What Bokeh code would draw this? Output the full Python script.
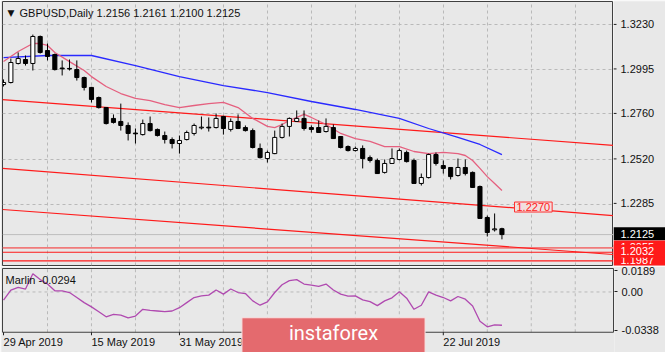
import math
from bokeh.plotting import figure
from bokeh.models import Range1d, FixedTicker, Label, ColumnDataSource, Grid
from bokeh.layouts import column, row
from bokeh.core.properties import value
from bokeh.embed import file_html
from bokeh.resources import INLINE

# ---------------- data ----------------
opens = [1.2914, 1.2925, 1.3025, 1.3046, 1.3025, 1.3167, 1.3093, 1.3072, 1.3001, 1.2999,
         1.2993, 1.2951, 1.2899, 1.2846, 1.2793, 1.2736, 1.2720, 1.2699, 1.2659, 1.2651,
         1.2709, 1.2678, 1.2646, 1.2625, 1.2604, 1.2625, 1.2657, 1.2686, 1.2690, 1.2688,
         1.2746, 1.2678, 1.2720, 1.2688, 1.2672, 1.2578, 1.2525, 1.2551, 1.2636, 1.2694,
         1.2720, 1.2736, 1.2688, 1.2688, 1.2667, 1.2688, 1.2641, 1.2588, 1.2567, 1.2578,
         1.2530, 1.2515, 1.2452, 1.2499, 1.2520, 1.2557, 1.2515, 1.2394, 1.2425, 1.2546,
         1.2488, 1.2478, 1.2436, 1.2478, 1.2452, 1.2378, 1.2215, 1.2150, 1.2156]
highs = [1.2941, 1.3051, 1.3083, 1.3067, 1.3177, 1.3172, 1.3130, 1.3077, 1.3041, 1.3046,
         1.3041, 1.2956, 1.2902, 1.2851, 1.2796, 1.2757, 1.2814, 1.2715, 1.2683, 1.2730,
         1.2746, 1.2683, 1.2667, 1.2636, 1.2646, 1.2672, 1.2709, 1.2746, 1.2741, 1.2762,
         1.2750, 1.2736, 1.2757, 1.2699, 1.2683, 1.2604, 1.2567, 1.2672, 1.2709, 1.2741,
         1.2778, 1.2778, 1.2699, 1.2725, 1.2736, 1.2704, 1.2643, 1.2594, 1.2588, 1.2594,
         1.2541, 1.2525, 1.2520, 1.2578, 1.2578, 1.2567, 1.2525, 1.2446, 1.2551, 1.2557,
         1.2515, 1.2480, 1.2525, 1.2520, 1.2457, 1.2383, 1.2225, 1.2236, 1.2161]
lows = [1.2904, 1.2920, 1.3020, 1.3014, 1.2988, 1.3077, 1.3041, 1.2988, 1.2962, 1.2988,
        1.2935, 1.2883, 1.2820, 1.2788, 1.2704, 1.2709, 1.2672, 1.2620, 1.2604, 1.2646,
        1.2667, 1.2641, 1.2604, 1.2578, 1.2551, 1.2620, 1.2646, 1.2678, 1.2667, 1.2683,
        1.2651, 1.2667, 1.2680, 1.2667, 1.2578, 1.2525, 1.2504, 1.2548, 1.2630, 1.2641,
        1.2718, 1.2672, 1.2662, 1.2660, 1.2662, 1.2628, 1.2578, 1.2562, 1.2562, 1.2473,
        1.2504, 1.2444, 1.2446, 1.2497, 1.2515, 1.2504, 1.2392, 1.2383, 1.2420, 1.2488,
        1.2446, 1.2415, 1.2430, 1.2436, 1.2370, 1.2208, 1.2115, 1.2141, 1.2100]
closes = [1.2925, 1.3030, 1.3051, 1.3025, 1.3167, 1.3083, 1.3062, 1.2993, 1.2997, 1.2996,
          1.2951, 1.2899, 1.2836, 1.2793, 1.2709, 1.2715, 1.2699, 1.2657, 1.2655, 1.2709,
          1.2672, 1.2646, 1.2625, 1.2604, 1.2620, 1.2662, 1.2699, 1.2690, 1.2686, 1.2736,
          1.2683, 1.2720, 1.2683, 1.2672, 1.2583, 1.2530, 1.2557, 1.2636, 1.2694, 1.2736,
          1.2736, 1.2683, 1.2678, 1.2662, 1.2694, 1.2630, 1.2583, 1.2567, 1.2578, 1.2525,
          1.2515, 1.2446, 1.2499, 1.2525, 1.2567, 1.2509, 1.2394, 1.2425, 1.2546, 1.2499,
          1.2473, 1.2430, 1.2478, 1.2446, 1.2373, 1.2210, 1.2136, 1.2155, 1.2125]

# short moving average (pink) and long moving average (blue), read at some bars
ma_fast_bar = [0, 2, 4, 5, 6, 7, 9, 11, 12, 14, 16, 18, 20, 22, 24, 26, 28, 30, 32, 34,
               36, 37, 38, 39, 41, 42, 44, 46, 48, 50, 52, 54, 56, 58, 60, 62, 63, 64, 65,
               66, 67, 68]
ma_fast_val = [1.3035, 1.3088, 1.3130, 1.3130, 1.3120, 1.3083, 1.3035, 1.2988, 1.2956, 1.2904,
               1.2867, 1.2841, 1.2830, 1.2809, 1.2793, 1.2804, 1.2814, 1.2820, 1.2793, 1.2736,
               1.2694, 1.2688, 1.2704, 1.2725, 1.2757, 1.2741, 1.2704, 1.2657, 1.2630, 1.2615,
               1.2588, 1.2588, 1.2562, 1.2551, 1.2557, 1.2551, 1.2541, 1.2515, 1.2473,
               1.2430, 1.2394, 1.2357]
ma_slow_bar = [0, 6, 12, 18, 24, 30, 36, 42, 48, 54, 58, 62, 65, 68]
ma_slow_val = [1.3056, 1.3067, 1.3067, 1.3014, 1.2956, 1.2909, 1.2872, 1.2825, 1.2783, 1.2736,
               1.2683, 1.2636, 1.2599, 1.2546]

# channel lines (left edge value, right edge value) and horizontal levels
channel_upper = [1.2835, 1.2594]
channel_middle = [1.2473, 1.2225]
channel_lower = [1.2257, 1.2020]
levels = [1.2055, 1.2032, 1.1987]
last_price = 1.2125
channel_tag = 1.2270

# Marlin oscillator, one value per bar
marlin = [-0.0073, 0.0017, 0.0040, 0.0026, 0.0160, 0.0109, 0.0070, 0.0010, 0.0010, -0.0005,
          -0.0049, -0.0094, -0.0132, -0.0174, -0.0219, -0.0198, -0.0204, -0.0228, -0.0213, -0.0153,
          -0.0162, -0.0168, -0.0174, -0.0168, -0.0139, -0.0094, -0.0049, -0.0034, -0.0028, 0.0017,
          -0.0019, 0.0026, -0.0005, -0.0014, -0.0079, -0.0117, -0.0088, -0.0005, 0.0064, 0.0100,
          0.0109, 0.0070, 0.0061, 0.0049, 0.0070, 0.0017, -0.0019, -0.0037, -0.0034, -0.0070,
          -0.0085, -0.0121, -0.0079, -0.0052, 0.0001, -0.0055, -0.0153, -0.0117, 0.0001, -0.0028,
          -0.0049, -0.0079, -0.0040, -0.0064, -0.0124, -0.0258, -0.0308, -0.0290, -0.0294]

price_ticks = [1.3230, 1.2995, 1.2760, 1.2520, 1.2285]
price_tick_labels = ["1.3230", "1.2995", "1.2760", "1.2520", "1.2285"]
marlin_ticks = [0.0189, 0.0, -0.0338]
marlin_tick_labels = ["0.0189", "0.00", "-0.0338"]
date_bars = [0, 12, 24, 60]
date_labels = ["29 Apr 2019", "15 May 2019", "31 May 2019", "22 Jul 2019"]
grid_bars = [6, 12, 18, 24, 30, 36, 42, 48, 54, 60, 66, 72, 78]

# ---------------- styling / layout ----------------
BG = "#e8e8e8"
FRAME = "#404040"
GRID = "#b9b9b9"
FONT = "Liberation Sans"
TXT = "#111111"
BAR_PX = 7.33                 # pixels per bar
P_PX = 0.000526               # price units per pixel
M_PX = 0.000893               # Marlin units per pixel

X0, X1 = -0.14, 83.22         # bar range of the chart frames
Y0, Y1 = 1.19624, 1.33510     # price range of the main frame
M0, M1 = -0.03557, 0.02069    # Marlin range of the indicator panel


def drop_grids(fig):
    fig.center = [r for r in fig.center if not isinstance(r, Grid)]


bars = list(range(len(opens)))
src = ColumnDataSource(dict(
    x=bars, open=opens, high=highs, low=lows, close=closes,
    top=[max(o, c) for o, c in zip(opens, closes)],
    bottom=[min(o, c) for o, c in zip(opens, closes)],
    fill=["white" if c >= o else "black" for o, c in zip(opens, closes)],
))

xr = Range1d(X0, X1)
yr = Range1d(Y0, Y1)

# ---------------- main price panel ----------------
p = figure(width=613, height=266, x_range=xr, y_range=yr,
           output_backend="svg", toolbar_location=None, tools="",
           x_axis_location=None, y_axis_location=None,
           min_border_left=2, min_border_right=0, min_border_top=1, min_border_bottom=1,
           background_fill_color=BG, border_fill_color=BG,
           outline_line_color=FRAME, outline_line_width=1)
drop_grids(p)
p.add_layout(Grid(dimension=0, ticker=FixedTicker(ticks=grid_bars),
                  grid_line_color=GRID, grid_line_dash="3 3"))
p.add_layout(Grid(dimension=1, ticker=FixedTicker(ticks=price_ticks),
                  grid_line_color=GRID, grid_line_dash="3 3"))

p.line([X0, X1], [last_price, last_price], line_color="#bdbdbd", line_width=1)
p.line([X0, X1], [levels[0], levels[0]], line_color="#f07a7a", line_width=1.6)
p.line([X0, X1], [levels[1], levels[1]], line_color="#ff1a1a", line_width=1.2)
p.line([X0, X1], [levels[2], levels[2]], line_color="#ff1a1a", line_width=1.2)
for ch in (channel_upper, channel_middle, channel_lower):
    p.line([X0, X1], ch, line_color="#ff1a1a", line_width=1.2)

p.line(ma_slow_bar, ma_slow_val, line_color="#2a2aff", line_width=1.3)
p.line(ma_fast_bar, ma_fast_val, line_color="#e5607f", line_width=1.3)

p.segment(x0="x", y0="low", x1="x", y1="high", source=src, line_color="black", line_width=1)
p.vbar(x="x", width=0.56, top="top", bottom="bottom", source=src,
       fill_color="fill", line_color="black", line_width=1)

p.add_layout(Label(x=X0, y=Y1, x_offset=5, y_offset=-11, text="\u25bc",
                   text_font="DejaVu Sans", text_font_size="9px", text_color=TXT,
                   text_baseline="middle", text_align="left"))
p.add_layout(Label(x=X0, y=Y1, x_offset=17, y_offset=-11,
                   text="GBPUSD,Daily  1.2156  1.2161  1.2100  1.2125",
                   text_font=FONT, text_font_size="11px", text_color=TXT,
                   text_baseline="middle", text_align="left"))
p.add_layout(Label(x=X0, y=channel_tag, x_offset=512, text=f"{channel_tag:.4f}",
                   text_font=FONT, text_font_size="11px", text_color="#ff2020",
                   text_baseline="middle", text_align="left",
                   background_fill_color="#f2dede", border_line_color="#ff3030",
                   padding=dict(left=2, right=2, top=1, bottom=1)))

# ---------------- price scale strip (ticks, labels, price tags) ----------------
s = figure(width=52, height=266, x_range=Range1d(0, 52), y_range=Range1d(Y0 - P_PX, Y1),
           output_backend="svg", toolbar_location=None, tools="",
           x_axis_location=None, y_axis_location=None,
           min_border_left=0, min_border_right=0, min_border_top=1, min_border_bottom=0,
           background_fill_color=BG, border_fill_color=BG, outline_line_color=None)
drop_grids(s)
s.segment(x0=0, y0=price_ticks, x1=3, y1=price_ticks, line_color="#202020", line_width=1)
s.text(x=7, y=price_ticks, text=price_tick_labels, text_font=value(FONT),
       text_font_size="11px", text_color=TXT, text_baseline="middle", text_align="left")


def tag(val, bg, fg):
    s.rect(x=26, y=val, width=52, height=13, height_units="screen",
           fill_color=bg, line_color=None)
    s.text(x=7, y=[val], text=[f"{val:.4f}"], text_font=value(FONT), text_font_size="11px",
           text_color=fg, text_baseline="middle", text_align="left")


tag(last_price, "#000000", "#ffffff")
tag(levels[0], "#ff1a1a", "#ffffff")
tag(levels[2], "#ff1a1a", "#ffffff")
tag(levels[1], "#ff1a1a", "#ffffff")

# ---------------- Marlin panel (with date scale underneath) ----------------
qx = Range1d(X0 - 1 / BAR_PX, X1 + 1 / BAR_PX)
q = figure(width=665, height=86, x_range=qx,
           y_range=Range1d(M1 + 1 * M_PX - 84 * M_PX, M1 + 1 * M_PX),
           output_backend="svg", toolbar_location=None, tools="",
           x_axis_location=None, y_axis_location="right",
           min_border_left=1, min_border_right=51, min_border_top=1, min_border_bottom=0,
           background_fill_color=BG, border_fill_color=BG, outline_line_color=None)
drop_grids(q)
q.yaxis.ticker = FixedTicker(ticks=marlin_ticks)
q.yaxis.major_label_overrides = dict(zip(marlin_ticks, marlin_tick_labels))
q.yaxis.axis_line_color = None
q.yaxis.minor_tick_line_color = None
q.yaxis.major_tick_in = 0
q.yaxis.major_tick_out = 3
q.yaxis.major_tick_line_color = "#202020"
q.yaxis.major_label_standoff = 4
q.yaxis.major_label_text_font = FONT
q.yaxis.major_label_text_font_size = "11px"
q.yaxis.major_label_text_color = TXT

# grid of the panel
q.segment(x0=grid_bars, y0=M0, x1=grid_bars, y1=M1, line_color=GRID, line_dash="3 3")
q.segment(x0=X0, y0=0.0, x1=X1, y1=0.0, line_color=GRID, line_dash="3 3")

q.line(bars, marlin, line_color="#b04ab0", line_width=1.3)

# panel border
q.line([X0, X1, X1, X0, X0], [M0, M0, M1, M1, M0], line_color=FRAME, line_width=1)

# date scale: tick marks at the bars, labels starting at the bars (MetaTrader style)
q.ray(x=date_bars, y=M0, length=3, length_units="screen", angle=-math.pi / 2,
      line_color="#202020", line_width=1)
q.text(x=date_bars, y=M0, y_offset=4, text=date_labels, text_font=value(FONT),
       text_font_size="11px", text_color=TXT, text_baseline="top", text_align="left")

q.add_layout(Label(x=X0, y=M1, x_offset=3, y_offset=-11,
                   text=f"Marlin {marlin[-1]:.4f}",
                   text_font=FONT, text_font_size="11px", text_color=TXT,
                   text_baseline="middle", text_align="left"))

# watermark
q.add_layout(Label(x=X0, y=M0, x_offset=331, y_offset=-7, text="instaforex",
                   text_font="Roboto", text_font_size="20px", text_color="#ffffff",
                   text_baseline="middle", text_align="center",
                   background_fill_color="#e46a6e", border_line_color="#f8e2e2",
                   border_line_width=1,
                   padding=dict(left=47, right=47, top=3, bottom=16), level="overlay"))

layout = column(row(p, s, spacing=0), q, spacing=0)
open("out.html", "w").write(file_html(layout, INLINE))
